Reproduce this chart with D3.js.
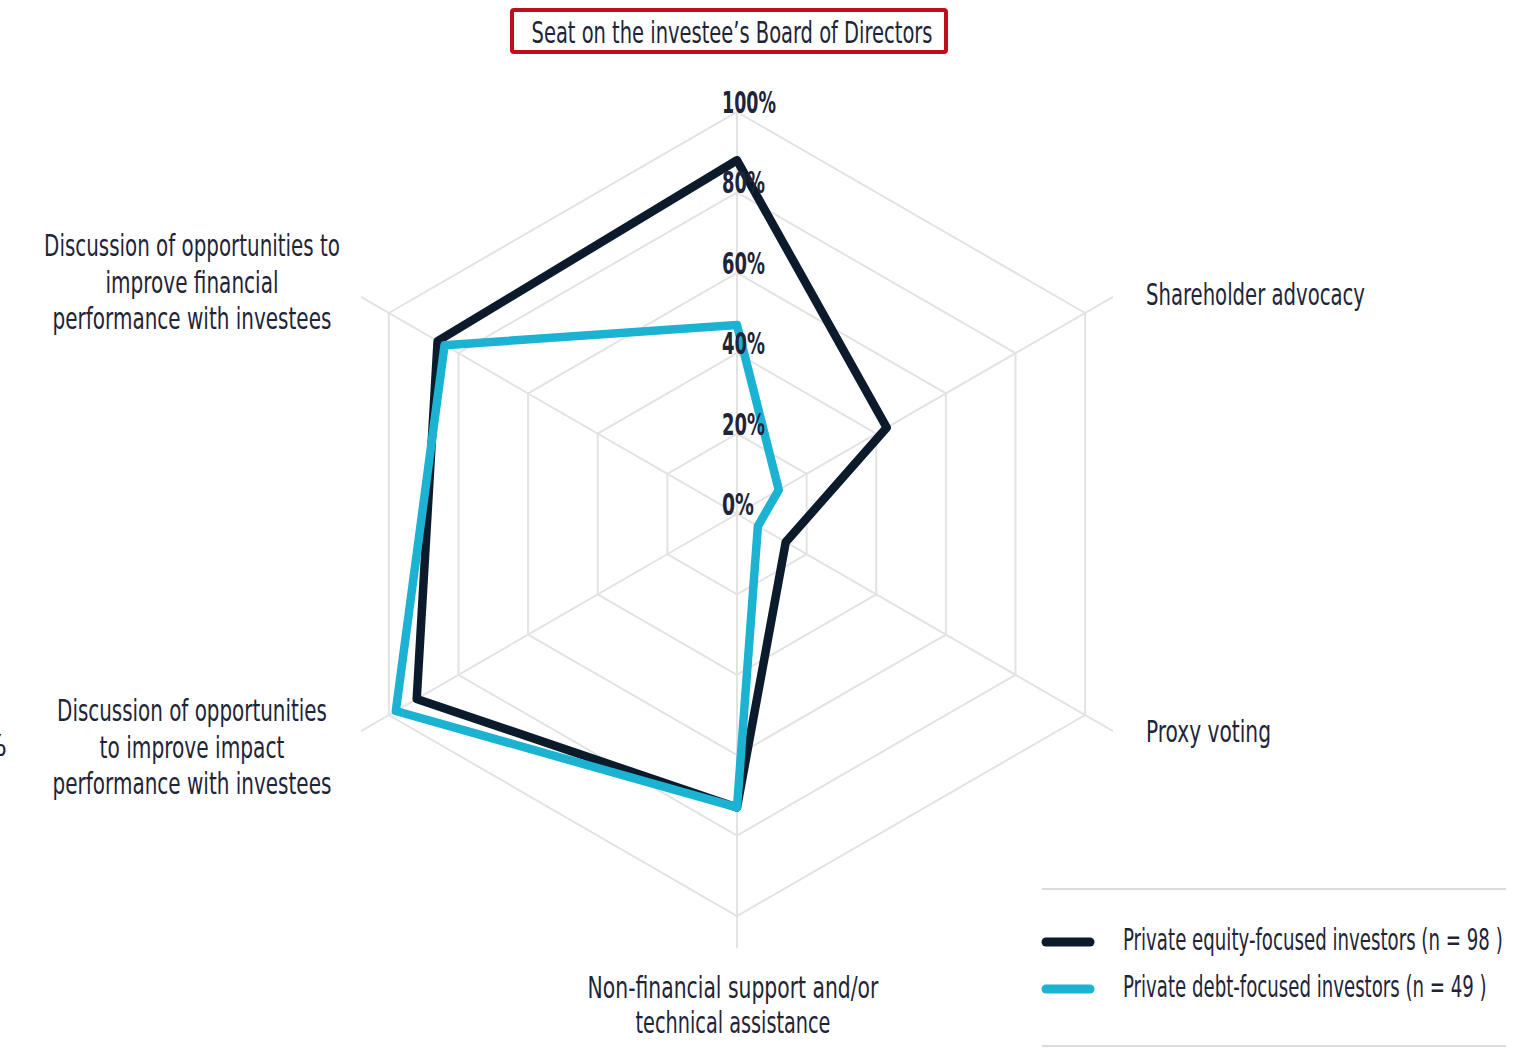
<!DOCTYPE html>
<html>
<head>
<meta charset="utf-8">
<script src="https://cdn.jsdelivr.net/npm/d3@7"></script>
<style>
  html, body { margin: 0; padding: 0; background: #fff; }
  svg { display: block; }
  text { font-family: "Liberation Sans Narrow", "DejaVu Sans Condensed", "Roboto", sans-serif; fill: #1e2538; }
</style>
</head>
<body>
<svg id="chart" width="1518" height="1048"></svg>
<script>
// Engagement activities, clockwise from the top axis
const categories = [
  "Seat on the investee\u2019s Board of Directors",
  "Shareholder advocacy",
  "Proxy voting",
  "Non-financial support and/or technical assistance",
  "Discussion of opportunities to improve impact performance with investees",
  "Discussion of opportunities to improve financial performance with investees"
];
// Share of respondents (%)
const privateEquity = [88, 43, 14, 73, 92, 86];
const privateDebt   = [47, 12, 6, 73, 98, 84];
const seriesNames = [
  "Private equity-focused investors (n = 98 )",
  "Private debt-focused investors (n = 49 )"
];
const tickValues = [0, 20, 40, 60, 80, 100];
const tickLabels = ["0%", "20%", "40%", "60%", "80%", "100%"];

const svg = d3.select("#chart");
const cx = 737, cy = 514, R = 402;
const colors = ["#0b1b2b", "#1cb2d2"];
const gridColor = "#e3e3e3";

const r = d3.scaleLinear().domain([0, 100]).range([0, R]);
const angle = d3.scaleLinear().domain([0, categories.length]).range([0, 2 * Math.PI]);

const g = svg.append("g").attr("transform", `translate(${cx},${cy})`);

// Hexagonal grid rings
const ringLine = d3.lineRadial()
  .angle((d, i) => angle(i))
  .radius(d => r(d))
  .curve(d3.curveLinearClosed);

tickValues.filter(v => v > 0).forEach(v => {
  g.append("path")
    .attr("d", ringLine(categories.map(() => v)))
    .attr("fill", "none")
    .attr("stroke", gridColor)
    .attr("stroke-width", 2);
});

// Spokes (the top one stops at the outer ring, the others run a little past it)
categories.forEach((c, i) => {
  const len = i === 0 ? r(100) : r(108);
  const a = angle(i);
  g.append("line")
    .attr("x1", 0).attr("y1", 0)
    .attr("x2", Math.sin(a) * len)
    .attr("y2", -Math.cos(a) * len)
    .attr("stroke", gridColor)
    .attr("stroke-width", 2);
});

// Series outlines
const seriesLine = d3.lineRadial()
  .angle((d, i) => angle(i))
  .radius(d => r(d))
  .curve(d3.curveLinearClosed);

[privateEquity, privateDebt].forEach((vals, k) => {
  g.append("path")
    .attr("d", seriesLine(vals))
    .attr("fill", "none")
    .attr("stroke", colors[k])
    .attr("stroke-width", 8.5)
    .attr("stroke-linejoin", "round");
});

// Draws a single text line squeezed horizontally to a given width
function fitText(parent, str, x, y, width, opts) {
  opts = opts || {};
  const t = parent.append("text")
    .attr("font-size", opts.size || 30)
    .attr("font-weight", opts.weight || "normal")
    .attr("text-anchor", opts.anchor || "start")
    .text(str);
  if (opts.fill) t.attr("fill", opts.fill);
  const natural = t.node().getComputedTextLength() || width;
  t.attr("transform", `translate(${x},${y}) scale(${width / natural},1)`);
  return t;
}

// Radial tick labels along the top axis
const tickWidths = { 2: 32, 3: 43, 4: 54 };
tickValues.forEach((v, i) => {
  const t = tickLabels[i];
  fitText(g, t, -15, -r(v) + 1, tickWidths[t.length], { weight: "bold" });
});

function label(lines, x, y0, lineH, widths, anchor) {
  lines.forEach((ln, i) => fitText(svg, ln, x, y0 + i * lineH, widths[i], { anchor: anchor || "middle" }));
}

// Top category, boxed
svg.append("rect")
  .attr("x", 512).attr("y", 10)
  .attr("width", 434).attr("height", 42)
  .attr("rx", 2)
  .attr("fill", "none")
  .attr("stroke", "#c00d1e")
  .attr("stroke-width", 4);
label([categories[0]], 732, 43, 0, [401]);

label([categories[1]], 1146, 305, 0, [219], "start");
label([categories[2]], 1146, 742, 0, [125], "start");
label(["Non-financial support and/or", "technical assistance"], 733, 998, 35, [291, 195]);
label(["Discussion of opportunities", "to improve impact", "performance with investees"], 192, 721, 36.5, [270, 185, 279]);
label(["Discussion of opportunities to", "improve financial", "performance with investees"], 192, 256, 36.5, [296, 173, 279]);

// Edge of a neighbouring percentage label
svg.append("text")
  .attr("x", 7).attr("y", 756)
  .attr("font-size", 30)
  .attr("text-anchor", "end")
  .attr("fill", "#333")
  .text("%");

// Legend
const lg = svg.append("g");
lg.append("line").attr("x1", 1042).attr("x2", 1506).attr("y1", 889).attr("y2", 889)
  .attr("stroke", "#dcdcdc").attr("stroke-width", 2);
lg.append("line").attr("x1", 1042).attr("x2", 1506).attr("y1", 1046).attr("y2", 1046)
  .attr("stroke", "#dcdcdc").attr("stroke-width", 2);
const legendY = [942, 989];
const legendW = [380, 364];
seriesNames.forEach((name, k) => {
  lg.append("line")
    .attr("x1", 1046).attr("x2", 1090)
    .attr("y1", legendY[k]).attr("y2", legendY[k])
    .attr("stroke", colors[k])
    .attr("stroke-width", 9)
    .attr("stroke-linecap", "round");
  fitText(lg, name, 1123, legendY[k] + 8, legendW[k]);
});
</script>
</body>
</html>
